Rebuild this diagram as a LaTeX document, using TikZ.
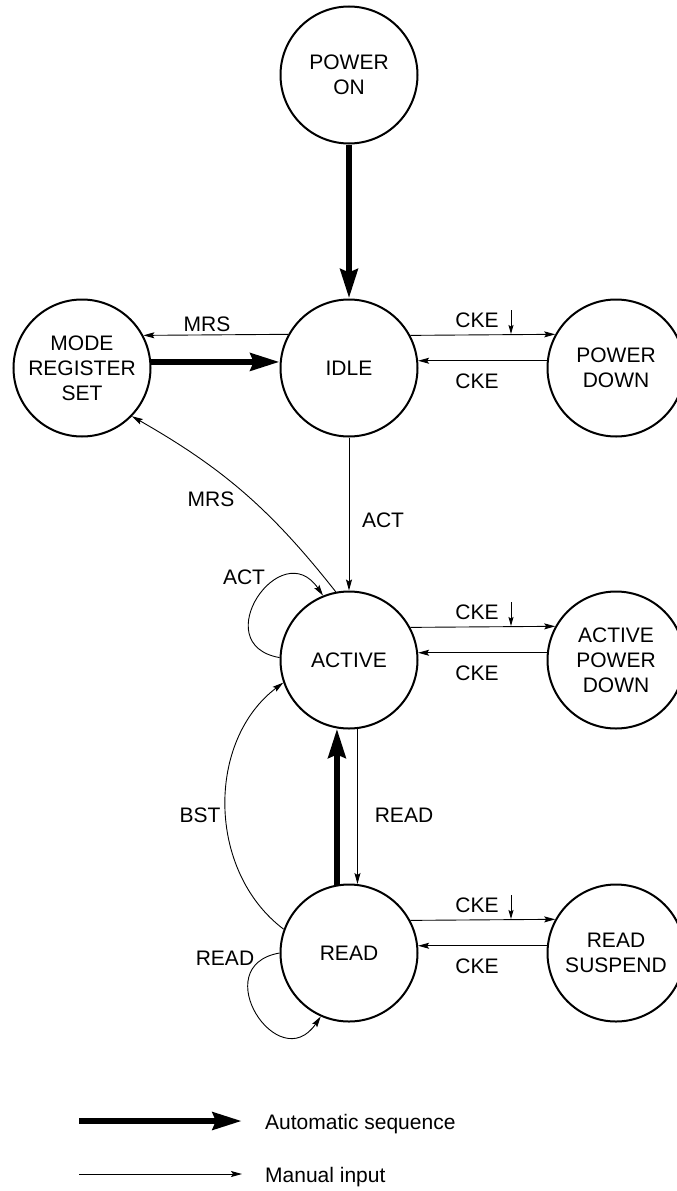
\documentclass[tikz,border=0pt]{standalone}
\usepackage{fontspec}
\setmainfont{Liberation Sans}
\usetikzlibrary{arrows.meta,calc}
\begin{document}
\begin{tikzpicture}[x=1pt,y=-1pt,
  state/.style={circle,draw,line width=2pt,minimum size=137pt,inner sep=0pt,align=center,font=\fontsize{21}{25}\selectfont},
  lbl/.style={font=\fontsize{21}{25}\selectfont,inner sep=0pt},
  manualarr/.style={line width=0.9pt,-{Stealth[length=11pt,width=6pt,inset=2pt]}},
  autoarr/.style={line width=6.5pt,-{Stealth[length=29pt,width=17pt,inset=3pt]}},
  downtick/.style={line width=0.9pt,-{Stealth[length=9pt,width=5pt,inset=1.5pt]}}]
\path[use as bounding box] (0,0) rectangle (677,1191);
\clip (0,0) rectangle (677,1191);

% states
\node[state] (po)   at (349,75)  {POWER\\ON};
\node[state] (idle) at (349,368) {IDLE};
\node[state] (mrs)  at (82,368)  {MODE\\REGISTER\\SET};
\node[state] (pd)   at (616,368) {POWER\\DOWN};
\node[state] (act)  at (349,660) {ACTIVE};
\node[state] (apd)  at (616,660) {ACTIVE\\POWER\\DOWN};
\node[state] (rd)   at (349,953) {READ};
\node[state] (rs)   at (616,953) {READ\\SUSPEND};

% automatic sequence
\draw[autoarr] (po.south) -- (idle.north);
\draw[autoarr] (mrs.5) -- (idle.175);
\draw[autoarr] (rd.100) -- (act.260);

% manual inputs, horizontal
\draw[manualarr] (idle.151.5) -- (mrs.28.5);
\draw[manualarr] (idle.28.5) -- (pd.151.5);
\draw[manualarr] (pd.174) -- (idle.6);
\draw[manualarr] (act.28.5) -- (apd.151.5);
\draw[manualarr] (apd.174) -- (act.6);
\draw[manualarr] (rd.28.5) -- (rs.151.5);
\draw[manualarr] (rs.174) -- (rd.6);

% manual inputs, vertical
\draw[manualarr] (idle.south) -- (act.north);
\draw[manualarr] (act.-83.3) -- (rd.83.3);

% curves
\draw[manualarr] (act.101) .. controls ($(act.101)+(-65,-82.5)$) and ($(mrs.-44)+(91,52)$) .. (mrs.-44);
\draw[manualarr] (rd.160) .. controls ($(rd.160)+(-77,-58)$) and ($(act.199)+(-77,58)$) .. (act.199);
\draw[manualarr] (act.178) .. controls ($(act.178)+(-74,-13)$) and ($(act.112.6)+(-42,-62)$) .. (act.112.6);
\draw[manualarr] (rd.180) .. controls ($(rd.180)+(-74,13)$) and ($(rd.246)+(-42,62)$) .. (rd.246);

% labels
\node[lbl] (lmrsa) at (207,324) {MRS};
\node[lbl] (lckea) at (477,320) {CKE};
\node[lbl] (lckeb) at (477,381) {CKE};
\node[lbl] (lckec) at (477,612) {CKE};
\node[lbl] (lcked) at (477,673) {CKE};
\node[lbl] (lckee) at (477,905) {CKE};
\node[lbl] (lckef) at (477,966) {CKE};
\node[lbl] (lacta) at (383,520) {ACT};
\node[lbl] (lmrsb) at (211,499) {MRS};
\node[lbl] (lactb) at (244,577) {ACT};
\node[lbl] (lreada) at (404,815) {READ};
\node[lbl] (lbst) at (200,815) {BST};
\node[lbl] (lreadb) at (225,958) {READ};

% CKE down ticks
\coordinate (ta1) at (511,310); \coordinate (ta2) at (511,334);
\coordinate (tb1) at (511,602); \coordinate (tb2) at (511,626);
\coordinate (tc1) at (511,895); \coordinate (tc2) at (511,919);
\draw[downtick] (ta1) -- (ta2);
\draw[downtick] (tb1) -- (tb2);
\draw[downtick] (tc1) -- (tc2);

% legend
\coordinate (la1) at (79,1121); \coordinate (la2) at (242,1121);
\coordinate (lm1) at (79,1174); \coordinate (lm2) at (242,1174);
\draw[autoarr] (la1) -- (la2);
\draw[manualarr] (lm1) -- (lm2);
\node[lbl,anchor=base west] (legauto) at (265,1129) {Automatic sequence};
\node[lbl,anchor=base west] (legman) at (265,1182) {Manual input};
\end{tikzpicture}
\end{document}
